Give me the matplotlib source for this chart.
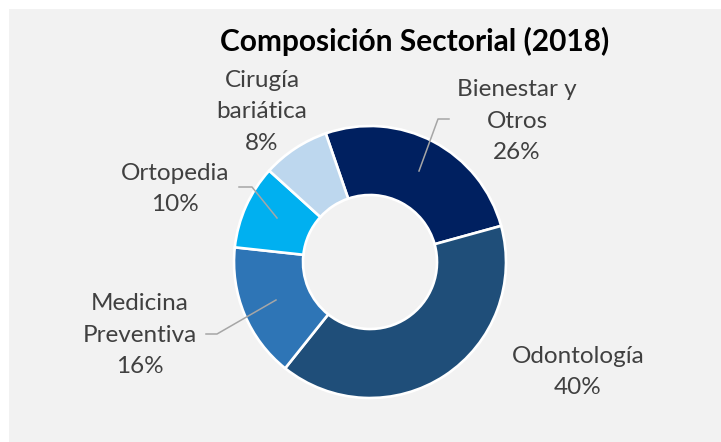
import matplotlib
matplotlib.use("Agg")
import matplotlib.pyplot as plt
from matplotlib.patches import Rectangle

categories = ["Bienestar y\nOtros", "Odontología", "Medicina\nPreventiva", "Ortopedia", "Cirugía\nbariática"]
values = [26, 40, 16, 10, 8]
colors = ["#002060", "#1F4E79", "#2E75B6", "#00B0F0", "#BDD7EE"]
title = "Composición Sectorial (2018)"

W, H = 721, 442
fig = plt.figure(figsize=(W / 100, H / 100), dpi=100)
fig.patch.set_facecolor("white")
ax = fig.add_axes([0, 0, 1, 1])

def Y(y):
    return H - y

ax.add_patch(Rectangle((9, 0), W - 9, H - 9, facecolor="#F2F2F2", edgecolor="none", zorder=0))

cx, cy, R = 370, 262, 136
ax.pie(values, colors=colors, startangle=109, counterclock=False,
       center=(cx, Y(cy)), radius=R,
       wedgeprops=dict(width=R - 67, edgecolor="white", linewidth=1.9))
ax.set_xlim(0, W)
ax.set_ylim(0, H)
ax.set_aspect("equal")
ax.axis("off")

font = "Lato"
tc = "#404040"
ax.text(415, Y(41), title, ha="center", va="center", fontsize=21.5,
        fontweight="bold", family=font, color="black")

label_pos = [(517, 121), (578, 372), (140, 335), (175, 189), (262, 112)]
for cat, v, (x, y) in zip(categories, values, label_pos):
    ax.text(x, Y(y), f"{cat}\n{v}%", ha="center", va="center", fontsize=17.5,
            family=font, color=tc, linespacing=1.6)

lc = "#A6A6A6"
leaders = [
    [(449, 119), (438, 119), (419, 171)],
    [(239, 187), (252, 187), (277, 218)],
    [(206, 334), (217, 334), (276, 300)],
]
for pts in leaders:
    ax.plot([p[0] for p in pts], [Y(p[1]) for p in pts], color=lc, lw=1.1, zorder=5)

fig.savefig("out.png", dpi=100, facecolor=fig.get_facecolor())
